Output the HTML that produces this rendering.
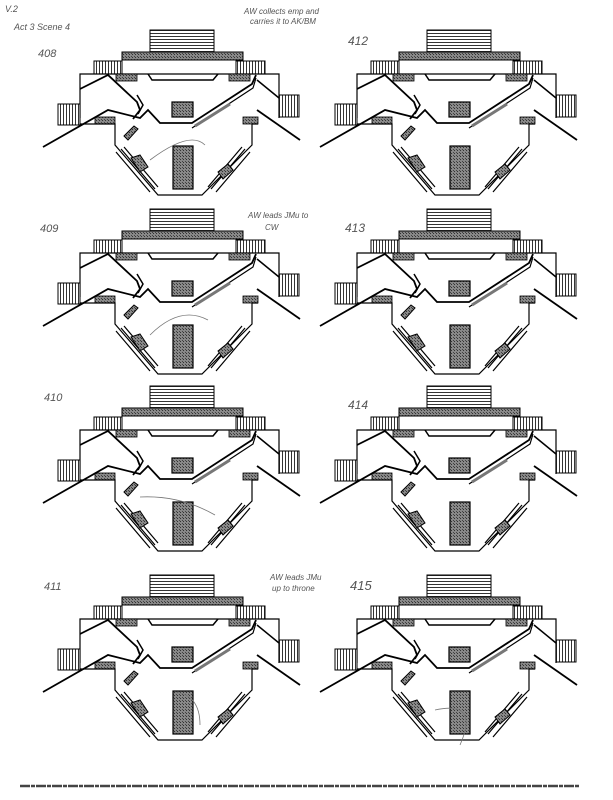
<!DOCTYPE html>
<html><head><meta charset="utf-8"><style>
html,body{margin:0;padding:0;background:#fff;}
svg{display:block;}
.h{font-family:"Liberation Sans",sans-serif;fill:#555;font-style:italic;}
</style></head><body>
<svg width="613" height="800" viewBox="0 0 613 800" xmlns="http://www.w3.org/2000/svg">
<defs>
<pattern id="hs" width="3" height="3" patternUnits="userSpaceOnUse"><rect width="3" height="3" fill="#888"/><rect width="1" height="1" fill="#333"/><rect x="2" y="2" width="1" height="1" fill="#444"/></pattern>
<pattern id="hz" width="4" height="3" patternUnits="userSpaceOnUse"><rect width="4" height="3" fill="#fff"/><line x1="0" y1="0.5" x2="4" y2="0.5" stroke="#000" stroke-width="0.8"/></pattern>
<pattern id="vt" width="3" height="4" patternUnits="userSpaceOnUse"><rect width="3" height="4" fill="#fff"/><line x1="0.5" y1="0" x2="0.5" y2="4" stroke="#000" stroke-width="0.8"/></pattern>
<g id="stage" fill="none" stroke="#000">
<rect x="150" y="30" width="64" height="22" fill="url(#hz)" stroke-width="1"/>
<rect x="122" y="52" width="121" height="8" fill="url(#hs)" stroke-width="1"/>
<rect x="122" y="60" width="121" height="14" fill="#fff" stroke-width="1"/>
<rect x="94" y="61" width="28" height="13" fill="url(#vt)" stroke-width="1"/>
<rect x="236" y="61" width="29" height="13" fill="url(#vt)" stroke-width="1"/>
<path d="M80 118 V74 H279 V118" stroke-width="1.2"/>
<rect x="58" y="104" width="22" height="21" fill="url(#vt)" stroke-width="1"/>
<rect x="279" y="95" width="20" height="22" fill="url(#vt)" stroke-width="1"/>
<rect x="116" y="74" width="21" height="7" fill="url(#hs)" stroke-width="0.8"/>
<rect x="229" y="74" width="21" height="7" fill="url(#hs)" stroke-width="0.8"/>
<rect x="95" y="117" width="20" height="7" fill="url(#hs)" stroke-width="0.8"/>
<rect x="243" y="117" width="15" height="7" fill="url(#hs)" stroke-width="0.8"/>
<path d="M80 124 H115 V145 L158 195 H202 L252 145 V124 H258" stroke-width="1.2"/>
<path d="M148 74 L152 80 H213 L218 74" stroke-width="1.5"/>
<path d="M80 89 L108 75 L137 102 L140 110 L133 119" stroke-width="1.8"/>
<path d="M43 147 L108 110 L140 118 L148 110 L160 123 H192 L252 84 L256 75" stroke-width="1.8"/>
<path d="M192 128 L253 88 L256 78" stroke-width="1.2"/>
<path d="M195 126 L230 104" stroke="#777" stroke-width="3"/>
<path d="M137 95 L143 105 L138 114" stroke-width="1.5"/>
<path d="M257 110 L300 140" stroke-width="1.8"/>
<path d="M257 80 L279 98" stroke-width="1.5"/>
<rect x="172" y="102" width="21" height="15" fill="url(#hs)" stroke-width="1.2"/>
<rect x="173" y="146" width="20" height="43" fill="url(#hs)" stroke-width="1.2"/>
<path d="M116 152 L150 192 M121 149 L155 189 M124 147 L158 187" stroke-width="1.2"/>
<path d="M250 152 L216 192 M245 149 L211 189 M242 147 L208 187" stroke-width="1.2"/>
<path d="M124 136 L134 126 L138 129 L128 140 Z" fill="url(#hs)" stroke-width="1"/>
<path d="M131 158 L140 155 L148 167 L140 172 Z" fill="url(#hs)" stroke-width="1"/>
<path d="M218 172 L228 164 L233 170 L223 179 Z" fill="url(#hs)" stroke-width="1"/>
</g>
</defs>
<text class="h" x="5" y="12" font-size="9">V.2</text>
<text class="h" x="14" y="30" font-size="9">Act 3 Scene 4</text>
<text class="h" x="244" y="14" font-size="8">AW collects emp and</text>
<text class="h" x="250" y="24" font-size="8">carries it to AK/BM</text>
<text class="h" x="248" y="218" font-size="8">AW leads JMu to</text>
<text class="h" x="265" y="230" font-size="8">CW</text>
<text class="h" x="270" y="580" font-size="8">AW leads JMu</text>
<text class="h" x="272" y="591" font-size="8">up to throne</text>
<text class="h" x="38" y="57" font-size="11">408</text>
<text class="h" x="348" y="45" font-size="12">412</text>
<text class="h" x="40" y="232" font-size="11">409</text>
<text class="h" x="345" y="232" font-size="12">413</text>
<text class="h" x="44" y="401" font-size="11">410</text>
<text class="h" x="348" y="409" font-size="12">414</text>
<text class="h" x="44" y="590" font-size="11">411</text>
<text class="h" x="350" y="590" font-size="13">415</text>
<use href="#stage"/>
<use href="#stage" transform="translate(277,0)"/>
<use href="#stage" transform="translate(0,179)"/>
<use href="#stage" transform="translate(277,179)"/>
<use href="#stage" transform="translate(0,356)"/>
<use href="#stage" transform="translate(277,356)"/>
<use href="#stage" transform="translate(0,545)"/>
<use href="#stage" transform="translate(277,545)"/>
<g fill="none" stroke="#777" stroke-width="0.8">
<path d="M150 160 Q190 130 205 145"/>
<path d="M208 320 Q180 305 150 335"/>
<path d="M140 497 Q180 495 215 515"/>
<path d="M200 725 Q200 695 175 692"/>
<path d="M435 710 Q480 700 460 745"/>
</g>
<line x1="20" y1="786" x2="580" y2="786" stroke="#444" stroke-width="2.5" stroke-dasharray="10 1 4 1"/>
</svg>
</body></html>
